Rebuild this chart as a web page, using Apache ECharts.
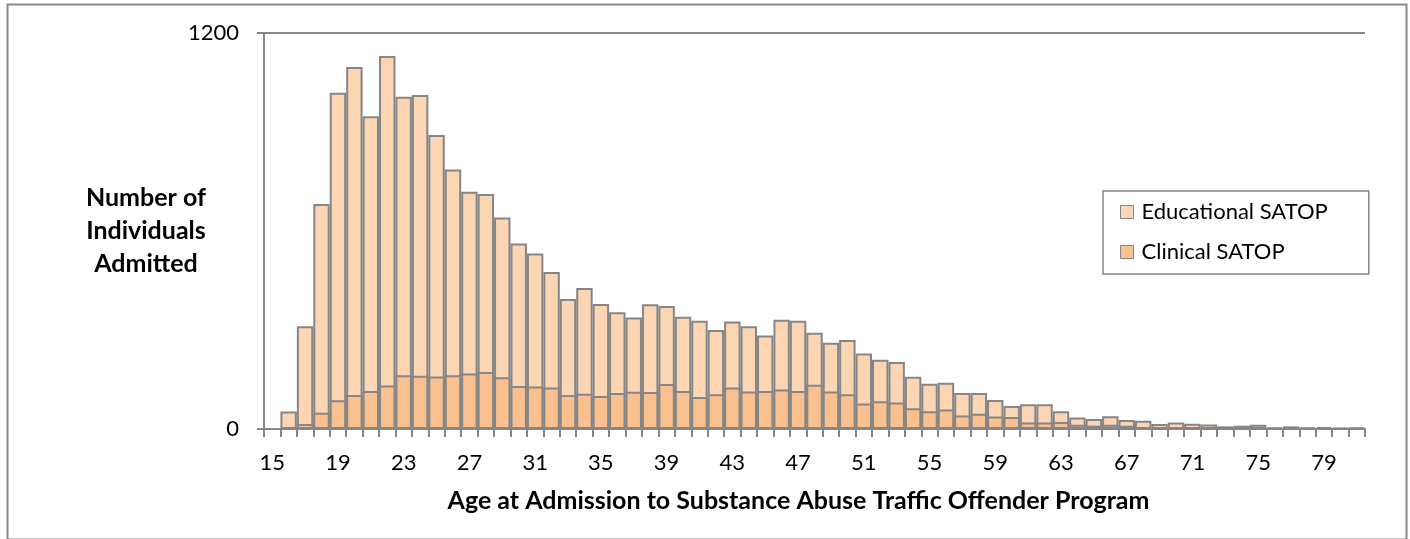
<!DOCTYPE html>
<html>
<head>
<meta charset="utf-8">
<script src="https://cdn.jsdelivr.net/npm/echarts@6/dist/echarts.min.js"></script>
<style>
html,body{margin:0;padding:0;background:#fff;}
#chart{width:1410px;height:539px;}
</style>
</head>
<body>
<div id="chart"></div>
<script>
var ages = [15,16,17,18,19,20,21,22,23,24,25,26,27,28,29,30,31,32,33,34,35,36,37,38,39,40,41,42,43,44,45,46,47,48,49,50,51,52,53,54,55,56,57,58,59,60,61,62,63,64,65,66,67,68,69,70,71,72,73,74,75,76,77,78,79,80,81];
var educational = [0,53,311,682,1019,1097,948,1130,1007,1012,891,786,719,712,641,562,532,476,394,427,379,354,338,378,373,340,328,300,326,311,283,331,328,292,261,270,229,210,203,158,137,140,109,109,88,70,75,75,54,35,30,39,27,25,15,20,16,14,8,10,13,5,8,5,6,3,4];
var clinical = [0,3,15,49,87,103,115,132,163,161,159,163,168,173,157,130,129,126,103,107,100,109,113,112,136,115,97,105,126,114,115,120,115,134,114,105,77,84,80,63,54,59,41,46,38,36,20,20,21,13,10,13,10,6,6,6,4,4,3,3,5,2,2,2,2,1,1];
var yTicks = [0, 1200];

var FONT = "Lato, 'Open Sans', sans-serif";
var GRAY = '#868686';
var chart = echarts.init(document.getElementById('chart'));
chart.setOption({
  animation: false,
  textStyle: {fontFamily: FONT},
  graphic: [{
    type: 'rect', left: 5, top: 2,
    shape: {width: 1399, height: 535},
    style: {fill: 'none', stroke: '#898989', lineWidth: 2}
  }],
  grid: {left: 264, right: 45, top: 33, bottom: 110, containLabel: false},
  legend: {
    orient: 'vertical', left: 1103, top: 191,
    padding: [9, 41, 10, 17],
    borderColor: GRAY, borderWidth: 1.5,
    itemWidth: 13, itemHeight: 13, itemGap: 16,
    icon: 'rect',
    itemStyle: {borderColor: GRAY, borderWidth: 1},
    textStyle: {fontFamily: FONT, fontSize: 22, color: '#000', lineHeight: 24, padding: [0,0,0,3]},
    data: ['Educational SATOP', 'Clinical SATOP']
  },
  xAxis: {
    type: 'category',
    data: ages,
    name: 'Age at Admission to Substance Abuse Traffic Offender Program',
    nameLocation: 'middle',
    nameGap: 59,
    nameMoveOverlap: false,
    nameTextStyle: {fontFamily: FONT, fontSize: 25, fontWeight: 'bold', color: '#000', padding: [0, 32, 0, 0]},
    axisLine: {lineStyle: {color: GRAY, width: 2}},
    axisTick: {show: true, interval: 0, length: 8, lineStyle: {color: GRAY, width: 2}},
    axisLabel: {interval: 3, margin: 23, fontFamily: FONT, fontSize: 22, color: '#000'},
    splitLine: {show: false}
  },
  yAxis: {
    type: 'value',
    min: yTicks[0], max: yTicks[1], interval: yTicks[1] - yTicks[0],
    name: 'Number of\nIndividuals\nAdmitted',
    nameLocation: 'middle',
    nameRotate: 0,
    nameGap: 118,
    nameMoveOverlap: false,
    nameTextStyle: {fontFamily: FONT, fontSize: 25, fontWeight: 'bold', color: '#000', align: 'center', lineHeight: 33, padding: [12, 0, 0, 0]},
    axisLine: {show: true, lineStyle: {color: GRAY, width: 2}},
    axisTick: {show: true, length: 7, lineStyle: {color: GRAY, width: 2}},
    axisLabel: {margin: 25, fontFamily: FONT, fontSize: 22, color: '#000', formatter: function (v) { return String(v); }},
    splitLine: {show: true, lineStyle: {color: GRAY, width: 2}}
  },
  series: [{
    name: 'Educational SATOP',
    type: 'bar',
    data: educational,
    barCategoryGap: '0%',
    barGap: '-100%',
    itemStyle: {color: '#FCD5B5', borderColor: GRAY, borderWidth: 2}
  }, {
    name: 'Clinical SATOP',
    type: 'bar',
    data: clinical,
    barCategoryGap: '0%',
    barGap: '-100%',
    itemStyle: {color: '#FAC090', borderColor: GRAY, borderWidth: 2}
  }]
});
</script>
</body>
</html>
